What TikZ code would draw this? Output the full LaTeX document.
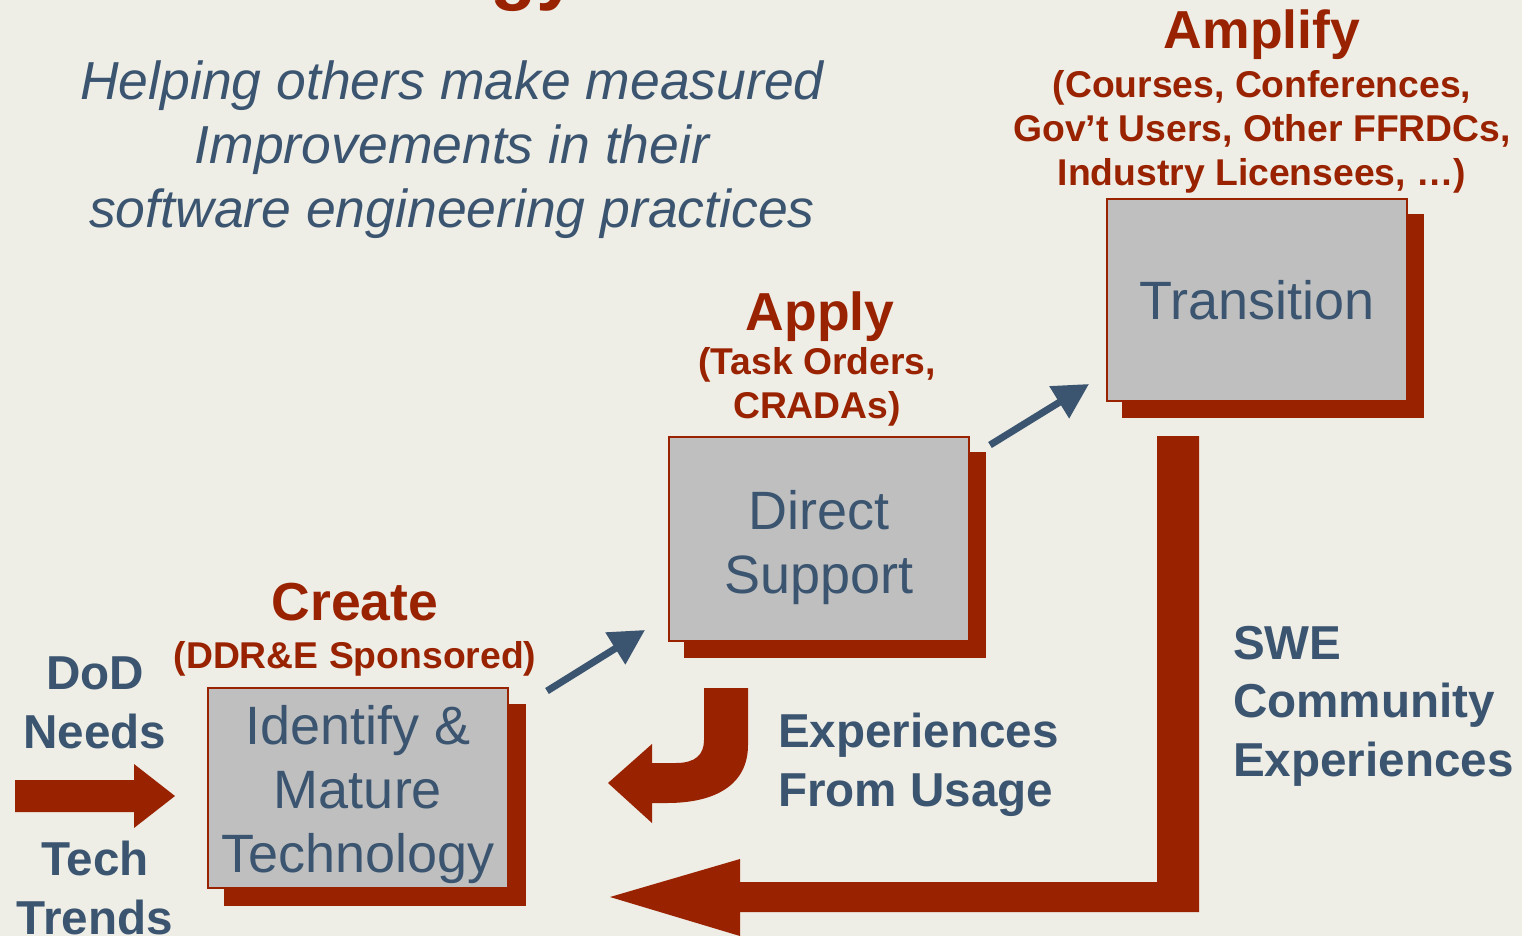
\documentclass[tikz,border=0pt]{standalone}
\usepackage{fontspec}
\setmainfont{Liberation Sans}
\usetikzlibrary{arrows.meta,backgrounds}
\definecolor{myred}{RGB}{153,34,0}
\definecolor{myblue}{RGB}{59,85,112}
\definecolor{bgcol}{RGB}{238,237,230}
\definecolor{boxgray}{RGB}{191,191,191}
\begin{document}
\begin{tikzpicture}[x=1pt,y=-1pt,
 box/.style={draw=myred, line width=2pt, fill=boxgray, minimum width=300pt, inner sep=0pt, align=center, text=myblue, font=\fontsize{54}{64}\selectfont},
 redlbl/.style={text=myred, font=\bfseries\fontsize{37.3}{44}\selectfont, align=center, inner sep=0pt},
 redhead/.style={text=myred, font=\bfseries\fontsize{53.5}{60}\selectfont, inner sep=0pt},
 bluelbl/.style={text=myblue, font=\bfseries\fontsize{47.6}{58.5}\selectfont, inner sep=0pt, align=left},
 bluearrow/.style={draw=myblue, line width=7pt, -{Triangle[length=35pt,width=36pt]}},
 blockarrow/.style={fill=myred}
]
\useasboundingbox (0,0) rectangle (1522,936);

% title fragment
\node[text=myred, font=\bfseries\fontsize{76}{80}\selectfont, inner sep=0pt, anchor=base west] (title) at (490,-4) {gy};

% subtitle
\node[text=myblue, font=\itshape\fontsize{53.5}{64}\selectfont, align=center, inner sep=0pt] (sub) at (452,150) {Helping others make measured\\Improvements in their\\software engineering practices};

% boxes
\node[box, minimum height=200pt] (idbox) at (358,788) {\rule{0pt}{53pt}Identify \&\\Mature\\Technology};
\node[box, minimum height=204pt] (dsbox) at (819,539) {\rule{0pt}{57pt}Direct\\Support};
\node[box, minimum height=202pt] (trbox) at (1257,300) {Transition};

% background and shadows
\begin{scope}[on background layer]
\fill[bgcol] (0,0) rectangle (1522,936);
\fill[myred] ([xshift=17pt,yshift=-17pt]idbox.south west) rectangle ([xshift=17pt,yshift=-17pt]idbox.north east);
\fill[myred] ([xshift=16pt,yshift=-16pt]dsbox.south west) rectangle ([xshift=16pt,yshift=-16pt]dsbox.north east);
\fill[myred] ([xshift=16pt,yshift=-16pt]trbox.south west) rectangle ([xshift=16pt,yshift=-16pt]trbox.north east);
\end{scope}

% red labels
\node[redhead, anchor=base] (amplify) at (1262,49) {Amplify};
\node[redlbl] (amplifysub) at (1262,132) {(Courses, Conferences,\\Gov’t Users, Other FFRDCs,\\Industry Licensees, …)};
\node[redhead, anchor=base] (apply) at (820,330) {Apply};
\node[redlbl] (applysub) at (817,387) {(Task Orders,\\CRADAs)};
\node[redhead, anchor=base] (create) at (355,620) {Create};
\node[redlbl, anchor=base] (createsub) at (355,668) {(DDR\&E Sponsored)};

% blue labels
\node[bluelbl, align=center] (dod) at (95,703) {DoD\\Needs};
\node[bluelbl, align=center] (tech) at (95,888) {Tech\\Trends};
\node[bluelbl, anchor=west] (expusage) at (778,765) {Experiences\\From Usage};
\node[bluelbl, anchor=west] (swe) at (1233,706) {SWE\\Community\\Experiences};

% blue connectors
\draw[bluearrow] ([shift={(38,4)}]idbox.north east) -- ([shift={(-23,-12)}]dsbox.south west);
\draw[bluearrow] ([shift={(20,9)}]dsbox.north east) -- ([shift={(-17,-18)}]trbox.south west);

% input block arrow
\fill[blockarrow] (15,780) -- (134,780) -- (134,764) -- (175,796) -- (134,828) -- (134,812) -- (15,812) -- cycle;

% curved feedback arrow
\fill[blockarrow] (704,688) -- (748,688) -- (748,745)
  .. controls (748,785) and (715,803) .. (667,803)
  -- (652,803) -- (652,823) -- (608,783) -- (652,744) -- (652,763)
  -- (676,763) .. controls (695,763) and (704,755) .. (704,740) -- cycle;

% big L feedback arrow
\fill[blockarrow] (1157,436) -- (1199,436) -- (1199,912) -- (740,912) -- (740,936) -- (610,897) -- (740,859) -- (740,882) -- (1157,882) -- cycle;
\end{tikzpicture}
\end{document}
